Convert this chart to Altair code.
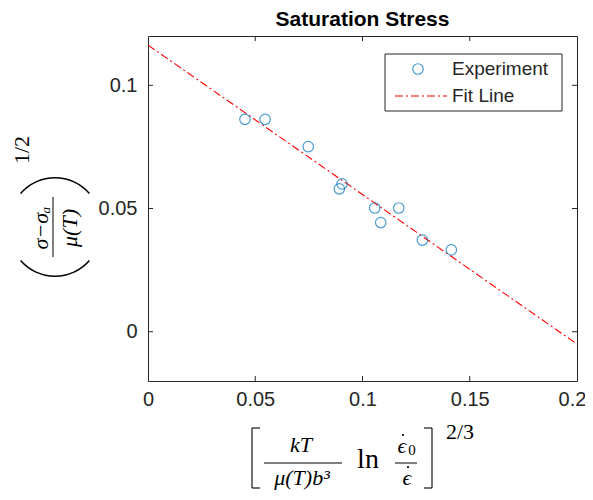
import altair as alt
import pandas as pd

# ---- data ----
x_exp = [0.0452, 0.0546, 0.0747, 0.0892, 0.0905, 0.1057, 0.1085, 0.1169, 0.1279, 0.1414]
y_exp = [0.0862, 0.0862, 0.0751, 0.0580, 0.0600, 0.0502, 0.0443, 0.0502, 0.0372, 0.0332]
fit_x = [0.0, 0.2]
fit_y = [0.1163, -0.0050]
x_ticks = [0.05, 0.10, 0.15]
y_ticks = [0.0, 0.05, 0.10]
x_labels = [0.0, 0.05, 0.10, 0.15, 0.20]

W, H = 429, 345
AXC = "#262626"
SANS = "Liberation Sans"
SERIF = "Liberation Serif"

df_exp = pd.DataFrame({"x": x_exp, "y": y_exp})
df_fit = pd.DataFrame({"x": fit_x, "y": fit_y})
df_xt = pd.DataFrame({"x": x_ticks})
df_yt = pd.DataFrame({"y": y_ticks})

xs = alt.Scale(domain=[0, 0.2], nice=False, zero=False)
ys = alt.Scale(domain=[-0.02, 0.12], nice=False, zero=False)
xaxis = alt.Axis(
    values=x_labels, format="~g", title=None, domain=False, ticks=False, grid=False,
    labelFont=SANS, labelFontSize=20, labelColor=AXC, labelPadding=8,
    labelOffset={"condition": {"test": "datum.value >= 0.19", "value": -5}, "value": 0},
    labelFlush=False, labelOverlap=False, labelBound=False)
yaxis = alt.Axis(
    values=y_ticks, format="~g", title=None, domain=False, ticks=False, grid=False,
    labelFont=SANS, labelFontSize=20, labelColor=AXC, labelPadding=11,
    labelOverlap=False, labelBound=False)
X = alt.X("x:Q", scale=xs, axis=xaxis)
Y = alt.Y("y:Q", scale=ys, axis=yaxis)
one = alt.Data(values=[{}])

points = alt.Chart(df_exp).mark_point(
    shape="circle", filled=False, size=110, strokeWidth=1.2, color="#0072BD"
).encode(x=X, y=Y)

fit = alt.Chart(df_fit).mark_line(
    color="#FF0000", strokeDash=[8, 3, 2, 3], strokeWidth=1.1
).encode(x=X, y=Y)

# inward ticks (MATLAB box style)
xt_bot = alt.Chart(df_xt).mark_rule(color=AXC).encode(x=X, y=alt.value(H), y2=alt.value(H - 5))
xt_top = alt.Chart(df_xt).mark_rule(color=AXC).encode(x=X, y=alt.value(0), y2=alt.value(5))
yt_left = alt.Chart(df_yt).mark_rule(color=AXC).encode(y=Y, x=alt.value(0), x2=alt.value(5))
yt_right = alt.Chart(df_yt).mark_rule(color=AXC).encode(y=Y, x=alt.value(W), x2=alt.value(W - 5))


def txt(s, x, y, size=18, font=SERIF, style="normal", weight="normal", angle=0,
        align="center", baseline="middle", color="black"):
    return alt.Chart(one).mark_text(
        text=s, font=font, fontSize=size, fontStyle=style, fontWeight=weight,
        angle=angle, align=align, baseline=baseline, color=color
    ).encode(x=alt.value(x), y=alt.value(y))


def rule(x1, y1, x2, y2, color="black", w=1.2, dash=None):
    kw = dict(color=color, strokeWidth=w)
    if dash:
        kw["strokeDash"] = dash
    return alt.Chart(one).mark_rule(**kw).encode(
        x=alt.value(x1), y=alt.value(y1), x2=alt.value(x2), y2=alt.value(y2))


def dot(x, y):
    return alt.Chart(one).mark_point(filled=True, size=5, color="black", opacity=1).encode(
        x=alt.value(x), y=alt.value(y))


title = txt("Saturation Stress", W / 2, -10, size=21, font=SANS, weight="bold",
            baseline="alphabetic")

# legend
leg_box = alt.Chart(one).mark_rect(fill="white", stroke=AXC, strokeWidth=1).encode(
    x=alt.value(237), x2=alt.value(414), y=alt.value(18), y2=alt.value(75))
leg_pt = alt.Chart(one).mark_point(
    shape="circle", filled=False, size=110, strokeWidth=1.2, color="#0072BD"
).encode(x=alt.value(270), y=alt.value(33))
leg_line = rule(247, 60, 299, 60, color="#FF0000", w=1.1, dash=[8, 3, 2, 3])
leg_t1 = txt("Experiment", 304, 33, size=19, font=SANS, align="left", color=AXC)
leg_t2 = txt("Fit Line", 304, 60, size=19, font=SANS, align="left", color=AXC)

# x-axis label: [ kT/(mu(T)b^3) ln (eps0/eps) ]^(2/3)
FS = 22
xl = [
    rule(104, 392, 104, 452, w=1.1), rule(104, 392, 112, 392, w=1.1), rule(104, 452, 112, 452, w=1.1),
    txt("kT", 153, 409, size=FS, style="italic"),
    rule(116, 427, 194, 427, w=1),
    txt("μ(T)b³", 154, 442, size=FS, style="italic"),
    txt("ln", 220, 424, size=28),
    txt("ϵ", 254, 410, size=FS, style="italic"),
    dot(255, 399),
    txt("0", 264, 414, size=15),
    rule(247, 427, 269, 427, w=1),
    txt("ϵ", 259, 442, size=FS, style="italic"),
    dot(260, 431),
    rule(284, 392, 284, 452, w=1.1), rule(276, 392, 284, 392, w=1.1), rule(276, 452, 284, 452, w=1.1),
    txt("2/3", 312, 396, size=22),
]

# y-axis label: ( (sigma - sigma_a)/mu(T) )^(1/2), rotated
yl = [
    alt.Chart(one).mark_arc(radius=46.3, radius2=44.8, theta=5.426, theta2=7.140,
                            color="black").encode(x=alt.value(-93), y=alt.value(187.3)),
    alt.Chart(one).mark_arc(radius=46.3, radius2=44.8, theta=2.285, theta2=3.998,
                            color="black").encode(x=alt.value(-93), y=alt.value(194.7)),
    txt("σ−σₐ", -107, 192, size=22, style="italic", angle=270),
    rule(-95, 161, -95, 221, w=1),
    txt("μ(T)", -78, 192, size=22, style="italic", angle=270),
    txt("1/2", -126, 114, size=22, angle=270),
]

chart = alt.layer(
    fit, points, xt_bot, xt_top, yt_left, yt_right, title,
    leg_box, leg_pt, leg_line, leg_t1, leg_t2, *xl, *yl
).properties(
    width=W, height=H,
    autosize=alt.AutoSizeParams(type="none"),
    padding={"left": 140, "top": 28, "right": 8, "bottom": 110},
).configure_view(stroke=AXC, strokeWidth=1)

chart.save("out.html", embed_options={"renderer": "svg", "actions": False})
